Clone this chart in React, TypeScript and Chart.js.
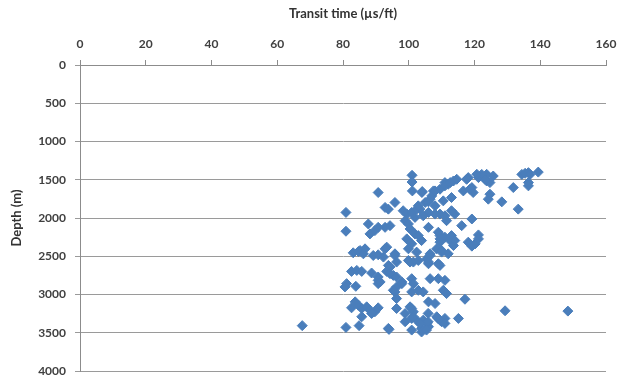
import React, { useEffect, useRef } from "react";
import { Chart, registerables } from "chart.js";

Chart.register(...registerables);

const xTicks = [0, 20, 40, 60, 80, 100, 120, 140, 160];
const yTicks = [0, 500, 1000, 1500, 2000, 2500, 3000, 3500, 4000];

const transitTime = [
  101, 101, 113.6, 114.6, 112, 111, 109.5, 107.5, 106.5, 105, 104, 103.4, 108, 110.5, 113, 116.6, 118.6, 119.6, 118.1, 121.2,
  123.7, 125.7, 123.7, 124.7, 131.8, 124.2, 124.7, 128.3, 133.3, 134.4, 135.4, 136.4, 136.9, 139.4, 136.4, 136.4, 122.2, 123.2,
  109.5, 111, 114, 119.2, 116.1, 121.2, 109.5, 111, 112.6, 113.6, 109.5, 118.1, 119.2, 105.5, 106.5, 109.5,
  101.1, 104.1, 95.8, 92.8, 93.8, 94.3, 92.8, 98.3, 99.4, 100.9, 102.4, 102.9, 106, 107, 108, 111, 112.6, 117.6, 119.2, 120.7,
  106, 108, 111.5, 113, 98.9, 99.9, 100.4, 101.9, 102.9, 103.9, 99.4, 100.9, 106, 109, 109.5, 113, 114, 120.2, 121.2,
  108.5, 110, 112, 92.8, 95.8, 99.9, 102.4, 106.5, 101.9, 104.4, 90.7, 80.9, 80.9, 87.7, 88.2, 89.7, 90.7, 93.3, 85.2, 86.7,
  95.8, 110, 93.8, 95.3, 97.9, 96.3, 95.8, 100.9, 102.9, 104.4, 99.9, 101.4, 102.9, 106, 106.5, 109, 111, 110.5, 111.5,
  106, 108, 117.1, 96.3, 98.9, 100.4, 101.4, 100.9, 98.9, 102.9, 104.4, 105.5, 106, 108.5, 109.5, 111, 115.1, 93.8, 100.9, 103.9,
  106, 109, 105.9, 105.9, 103.9, 105.4, 108.9, 110, 111, 129.3, 148.4,
  82.6, 84.2, 85.7, 83.1, 84.7, 86.2, 89.2, 90.7, 92.3, 88.7, 90.7, 90.7, 93.3, 81.1, 80.6, 83.9, 83.7, 82.6, 84.7, 85.7,
  87.2, 88.2, 89.7, 90.7, 85.7, 88.7, 96.3, 67.6, 80.9, 84.9, 94,
  94.3, 96.3, 100.4, 90.7, 91.3, 94.3, 96.3, 97.9, 100.9, 101.4, 95.3, 100.9, 101.4, 103.4
];

const depth = [
  1442, 1530, 1516, 1494, 1559, 1537, 1624, 1646, 1754, 1797, 1667, 1884, 1841, 1776, 1732, 1646, 1624, 1667, 1472, 1472,
  1429, 1451, 1516, 1537, 1602, 1754, 1689, 1789, 1884, 1430, 1416, 1407, 1430, 1400, 1537, 1580, 1430, 1494,
  1949, 1971, 1949, 2013, 2100, 2221, 2230, 2251, 2295, 2360, 2316, 2316, 2368, 2533, 2490, 2620,
  1646, 1654, 1797, 1862, 1884, 2100, 2122, 1905, 1949, 1927, 1884, 1841, 1789, 1711, 1646, 1580, 1537, 1494, 1602, 1429,
  1927, 1949, 2035, 1905, 2035, 2078, 2143, 2208, 2230, 2295, 2273, 2338, 2122, 2186, 2273, 2230, 2295, 2338, 2273,
  2403, 2425, 2468, 2403, 2468, 2403, 2446, 2468, 1992, 1971, 1667, 1927, 2173, 2078, 2208, 2165, 2122, 2381, 2425, 2403,
  2490, 2446, 2620, 2750, 2836, 2901, 2966, 2966, 2945, 2966, 2555, 2576, 2555, 2598, 2793, 2793, 2815, 2945, 2988,
  3096, 3118, 3062, 3183, 3248, 3161, 3226, 3313, 3356, 3356, 3335, 3378, 3421, 3291, 3335, 3313, 3313, 3443, 3465, 3490,
  2576, 2598, 3247, 3356, 3443, 3465, 3313, 3356, 3378, 3213, 3217,
  2698, 2685, 2698, 2455, 2438, 2468, 2490, 2481, 2511, 2719, 2815, 2858, 2698, 2858, 2901, 2893, 3096, 3174, 3140, 3183,
  3161, 3205, 3226, 3174, 3291, 3248, 3053, 3407, 3430, 3407, 3456,
  2641, 2576, 2576, 2771, 2836, 2728, 2771, 2858, 2793, 2858, 2945, 3183, 3291, 3378
];

const xTitle = "Transit time (µs/ft)";
const yTitle = "Depth (m)";

export default function App() {
  const ref = useRef<HTMLCanvasElement>(null);
  useEffect(() => {
    document.body.style.margin = "0";
    const points = transitTime.map((x, i) => ({ x, y: depth[i] }));
    const font = { family: "Lato, 'Open Sans', sans-serif", size: 12, weight: "bold" as const };
    const titleFont = { family: "Lato, 'Open Sans', sans-serif", size: 13, weight: "bold" as const };
    const chart = new Chart(ref.current!, {
      type: "scatter",
      data: {
        datasets: [
          {
            data: points,
            pointStyle: "rectRot",
            pointRadius: 5,
            backgroundColor: "#4A7EBB",
            borderColor: "#4A7EBB",
            borderWidth: 1,
          },
        ],
      },
      options: {
        animation: false,
        responsive: false,
        layout: { padding: { left: 0, right: 24, top: 0, bottom: 4 } },
        plugins: { legend: { display: false }, tooltip: { enabled: false } },
        scales: {
          x: {
            position: "top",
            min: 0,
            max: 160,
            afterBuildTicks: (s: any) => {
              s.ticks = xTicks.map((v) => ({ value: v }));
            },
            afterFit: (s: any) => {
              s.height = 65;
              s.paddingLeft = 0;
              s.paddingRight = 0;
            },
            ticks: { color: "#404040", font, padding: 9, maxRotation: 0 },
            grid: { drawOnChartArea: false, drawTicks: true, tickLength: 5, color: "#8c8c8c" },
            border: { display: true, color: "#8c8c8c" },
            title: { display: true, text: xTitle, color: "#333333", font: titleFont, padding: { top: 6, bottom: 0 } },
          },
          y: {
            reverse: true,
            min: 0,
            max: 4000,
            afterBuildTicks: (s: any) => {
              s.ticks = yTicks.map((v) => ({ value: v }));
            },
            afterFit: (s: any) => {
              s.width = 80;
              s.paddingTop = 0;
              s.paddingBottom = 0;
            },
            ticks: { color: "#404040", font, padding: 9, callback: (v: any) => String(v) },
            grid: { drawTicks: true, tickLength: 5, color: "#9a9a9a" },
            border: { display: true, color: "#8c8c8c" },
            title: { display: true, text: yTitle, color: "#333333", font: titleFont, padding: { top: 9, bottom: 0 } },
          },
        },
      },
    });
    return () => chart.destroy();
  }, []);
  return (
    <div style={{ width: 630, height: 377 }}>
      <canvas ref={ref} width={630} height={377} style={{ display: "block" }} />
    </div>
  );
}
